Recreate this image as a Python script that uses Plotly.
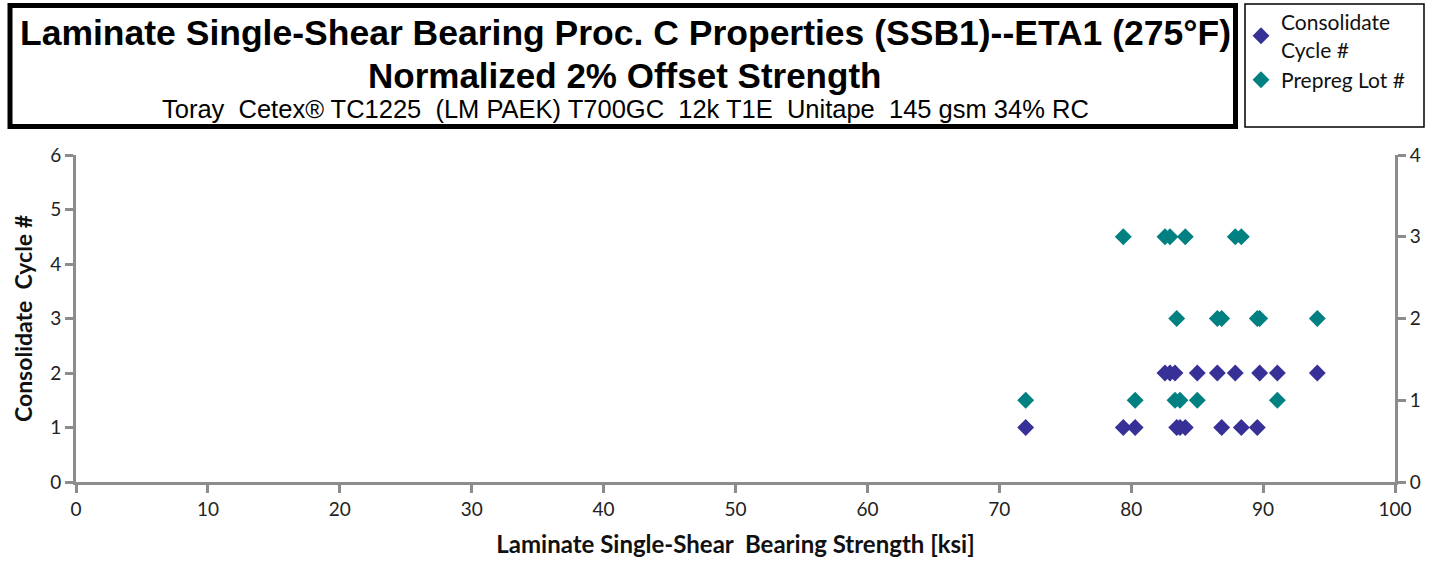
import plotly.graph_objects as go

# strengths [ksi]
cycle1_x = [72.0, 79.4, 80.3, 83.45, 83.7, 84.1, 86.86, 88.35, 89.56]
cycle2_x = [82.56, 82.94, 83.32, 85.01, 86.53, 87.89, 89.74, 91.08, 94.11]
cycle_x = cycle1_x + cycle2_x
cycle_y = [1] * 9 + [2] * 9

lot1_x = [72.0, 80.3, 83.32, 83.7, 85.01, 91.08]
lot2_x = [83.45, 86.53, 86.86, 89.56, 89.74, 94.11]
lot3_x = [79.4, 82.56, 82.94, 84.1, 87.89, 88.35]
lot_x = lot1_x + lot2_x + lot3_x
lot_y = [1] * 6 + [2] * 6 + [3] * 6

x_ticks = [0, 10, 20, 30, 40, 50, 60, 70, 80, 90, 100]

W, H = 1437, 571
L, R, T, B = 76, 1395, 155, 482  # plot area in pixels


def px(x):
    return (x - L) / (R - L)


def py(y):
    return (B - y) / (B - T)


fig = go.Figure()
fig.add_trace(go.Scatter(x=cycle_x, y=cycle_y, mode="markers", name="Consolidate<br>Cycle #",
                         marker=dict(symbol="diamond", size=13, color="#373197")))
fig.add_trace(go.Scatter(x=lot_x, y=lot_y, mode="markers", name="Prepreg Lot #", yaxis="y2",
                         marker=dict(symbol="diamond", size=13, color="#008080")))

axis_style = dict(showgrid=False, zeroline=False, showline=True, linecolor="#8c8c8c", linewidth=3,
                  ticks="outside", tickcolor="#8c8c8c", tickwidth=3, ticklen=8, automargin=False,
                  tickfont=dict(family="Lato, Open Sans", size=19, color="#222"))

fig.update_layout(
    width=W, height=H, paper_bgcolor="white", plot_bgcolor="white",
    margin=dict(l=L, r=W - R, t=T, b=H - B, autoexpand=False),
    xaxis=dict(range=[0, 100], tickvals=x_ticks, **axis_style,
               title=dict(text="Laminate Single-Shear\u00a0 Bearing Strength [ksi]", standoff=18,
                          font=dict(family="Lato, Open Sans", size=24, color="#111", weight="bold"))),
    yaxis=dict(range=[0, 6], dtick=1, **axis_style,
               title=dict(text="Consolidate\u00a0 Cycle #", standoff=12,
                          font=dict(family="Lato, Open Sans", size=23, color="#111", weight="bold"))),
    yaxis2=dict(range=[0, 4], dtick=1, overlaying="y", side="right", **axis_style),
    showlegend=True,
    legend=dict(x=px(1241), y=py(2), xanchor="left", yanchor="top", bgcolor="rgba(0,0,0,0)",
                font=dict(family="Lato, Open Sans", size=21, color="#111"), tracegroupgap=8,
                itemwidth=30),
)

# title box and legend box
fig.add_shape(type="rect", xref="paper", yref="paper", x0=px(10), x1=px(1235.5), y0=py(126.5), y1=py(5.5),
              line=dict(color="black", width=5))
fig.add_shape(type="rect", xref="paper", yref="paper", x0=px(1245), x1=px(1424), y0=py(127), y1=py(4),
              line=dict(color="black", width=1.5))

head_font = "Liberation Sans, Arial"
fig.add_annotation(text="<b>Laminate Single-Shear Bearing Proc. C Properties (SSB1)--ETA1 (275°F)</b>",
                   xref="paper", yref="paper", x=px(625), y=py(33), xanchor="center", yanchor="middle",
                   showarrow=False, font=dict(family=head_font, size=35.5, color="black"))
fig.add_annotation(text="<b>Normalized 2% Offset Strength</b>",
                   xref="paper", yref="paper", x=px(624), y=py(75), xanchor="center", yanchor="middle",
                   showarrow=False, font=dict(family=head_font, size=35, color="black"))
fig.add_annotation(text="Toray\u00a0 Cetex® TC1225\u00a0 (LM PAEK) T700GC\u00a0 12k T1E\u00a0 Unitape\u00a0 145 gsm 34% RC",
                   xref="paper", yref="paper", x=px(625), y=py(109), xanchor="center", yanchor="middle",
                   showarrow=False, font=dict(family=head_font, size=25.5, color="black"))

# drop the page's default body margin so the figure starts at the window corner
fig.write_html("out.html", config={"displayModeBar": False},
               post_script="document.body.style.margin='0';")
